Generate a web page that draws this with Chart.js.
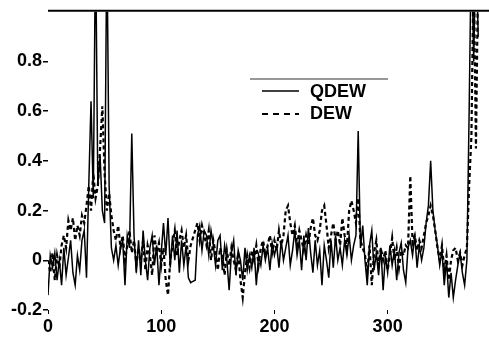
<!DOCTYPE html>
<html>
<head>
<meta charset="utf-8">
<script src="https://cdn.jsdelivr.net/npm/chart.js@4/dist/chart.umd.min.js"></script>
<style>
  body { margin: 0; background: #fff; }
  #chart { display: block; }
</style>
</head>
<body>
<canvas id="chart" width="489" height="337"></canvas>
<script>
// sample spacing along x (one value every 2 units, starting at 0)
const STEP = 2;

const seriesNames = ['QDEW', 'DEW'];

const qdew = [
  -0.14, 0.02, -0.03, 0.03, -0.08, 0.0, -0.1, 0.05, -0.06, 0.01,
  0.08, -0.05, -0.1, 0.02, -0.04, 0.08, 0.12, -0.07, 0.3, 0.64,
  0.25, 1.3, 0.3, 0.42, 0.2, 0.15, 1.3, 0.3, 0.05, 0.0,
  0.06, -0.02, 0.05, 0.08, -0.1, 0.1, 0.05, 0.51, 0.1, -0.05,
  0.08, -0.06, 0.12, 0.0, -0.08, 0.05, 0.1, -0.02, 0.06, -0.1,
  0.03, 0.15, 0.02, 0.17, -0.03, 0.1, 0.0, 0.12, -0.05, 0.08,
  -0.02, 0.06, -0.07, -0.09, -0.085, -0.08, 0.1, 0.14, 0.04, 0.12,
  0.1, 0.02, 0.12, 0.06, -0.02, 0.08, 0.1, -0.04, 0.06, 0.0,
  -0.12, 0.03, 0.08, -0.06, 0.04, 0.0, -0.08, 0.05, -0.04, 0.02,
  -0.03, 0.05, -0.1, 0.02, -0.02, 0.06, 0.0, 0.05, -0.04, 0.07,
  0.02, 0.06, -0.03, 0.08, 0.0, 0.05, 0.1, -0.02, 0.04, 0.12,
  0.02, 0.08, -0.04, 0.1, 0.0, 0.13, 0.03, -0.05, 0.08, -0.02,
  0.04, -0.1, 0.06, 0.0, -0.07, 0.08, -0.03, 0.1, 0.0, 0.05,
  -0.02, 0.08, 0.02, 0.1, 0.0, 0.06, 0.1, 0.52, 0.05, 0.14,
  0.0, -0.1, 0.06, 0.12, -0.04, 0.03, -0.06, 0.05, -0.12, 0.02,
  -0.05, 0.06, -0.02, 0.04, -0.08, 0.03, 0.07, -0.04, -0.09, 0.05,
  0.08, 0.02, 0.1, -0.03, 0.06, 0.0, 0.05, 0.15, 0.22, 0.4,
  0.2, 0.12, 0.06, -0.02, 0.04, -0.1, 0.0, -0.15, -0.05, -0.15,
  -0.08, -0.02, 0.03, -0.05, -0.1, 0.0, 0.6, 1.3, 0.8, 1.3,
  0.9
];

const dew = [
  0.0, -0.05, 0.03, -0.08, 0.02, -0.03, 0.06, 0.1, 0.05, 0.16,
  0.12, 0.17, 0.08, 0.14, 0.1, 0.18, 0.15, 0.22, 0.3, 0.2,
  0.35, 0.25, 0.3, 0.45, 0.62, 0.35, 0.2, 0.27, 0.18, 0.12,
  0.08, 0.14, 0.05, 0.1, 0.0, 0.06, 0.12, 0.03, 0.08, -0.02,
  0.05, 0.0, 0.08, -0.04, 0.06, 0.02, -0.06, 0.1, 0.03, 0.07,
  -0.02, 0.05, -0.08, -0.14, 0.0, 0.06, 0.12, 0.02, 0.08, 0.12,
  0.05, 0.1, 0.0, 0.06, 0.09, 0.12, 0.15, 0.08, 0.14, 0.1,
  0.06, 0.12, 0.0, 0.08, 0.03, -0.04, 0.05, 0.02, -0.06, 0.04,
  -0.02, 0.05, 0.0, -0.04, 0.03, -0.08, -0.15, -0.05, 0.02, -0.03,
  0.04, 0.0, 0.06, -0.02, 0.05, 0.08, 0.02, 0.06, 0.1, 0.03,
  0.08, 0.04, 0.12, 0.06, 0.1, 0.2, 0.22, 0.15, 0.1, 0.14,
  0.06, 0.12, 0.08, 0.04, 0.1, 0.06, 0.13, 0.17, 0.1, 0.08,
  0.12, 0.2, 0.22, 0.14, 0.05, 0.1, 0.15, 0.08, 0.12, 0.06,
  0.17, 0.1, 0.05, 0.2, 0.24, 0.2, 0.15, 0.25, 0.08, 0.05,
  0.02, -0.05, 0.06, -0.1, 0.03, 0.08, -0.02, 0.05, 0.0, 0.04,
  -0.04, 0.02, 0.09, 0.0, 0.05, -0.03, 0.04, 0.02, 0.06, 0.05,
  0.34, 0.07, 0.1, 0.04, 0.08, 0.05, 0.1, 0.15, 0.18, 0.22,
  0.18, 0.12, 0.05, 0.0, 0.06, -0.04, 0.02, -0.08, 0.0, 0.04,
  0.05, 0.0, 0.03, -0.02, 0.02, 0.05, 0.3, 0.5, 1.2, 0.45,
  1.2
];

const xTicks = [0, 100, 200, 300];
const xTickLabels = ['0', '100', '200', '300'];
const yTicks = [-0.2, 0, 0.2, 0.4, 0.6, 0.8];
const yTickLabels = ['-0.2', '0', '0.2', '0.4', '0.6', '0.8'];

const toPoints = (arr) => arr.map((v, i) => ({x: i * STEP, y: v}));

const FONT = 'Liberation Sans, Arial, sans-serif';

// top frame line and the little legend box
const decorations = {
    id: 'decorations',
    afterDraw(chart) {
        const {ctx, chartArea} = chart;
        ctx.save();
        ctx.strokeStyle = '#000';
        ctx.lineWidth = 2;
        ctx.beginPath();
        ctx.moveTo(chartArea.left, chartArea.top - 1);
        ctx.lineTo(chart.width, chartArea.top - 1);
        ctx.stroke();

        ctx.lineWidth = 1;
        ctx.strokeStyle = '#333';
        ctx.beginPath();
        ctx.moveTo(250, 79);
        ctx.lineTo(388, 79);
        ctx.stroke();

        ctx.strokeStyle = '#000';
        ctx.lineWidth = 1.3;
        ctx.beginPath();
        ctx.moveTo(262, 91);
        ctx.lineTo(299, 91);
        ctx.stroke();
        ctx.lineWidth = 2;
        ctx.setLineDash([6, 5]);
        ctx.beginPath();
        ctx.moveTo(262, 114);
        ctx.lineTo(299, 114);
        ctx.stroke();
        ctx.setLineDash([]);

        ctx.fillStyle = '#000';
        ctx.font = 'bold 18px ' + FONT;
        ctx.textBaseline = 'middle';
        ctx.fillText(seriesNames[0], 310, 92);
        ctx.fillText(seriesNames[1], 310, 114);
        ctx.restore();
    }
};

new Chart(document.getElementById('chart'), {
    type: 'line',
    data: {
        datasets: [{
            label: seriesNames[0],
            data: toPoints(qdew),
            borderColor: '#000',
            borderWidth: 1.5,
            pointRadius: 0,
            tension: 0
        }, {
            label: seriesNames[1],
            data: toPoints(dew),
            borderColor: '#000',
            borderWidth: 2.2,
            borderDash: [4, 3],
            pointRadius: 0,
            tension: 0
        }]
    },
    options: {
        responsive: false,
        animation: false,
        layout: {padding: {top: 10, right: 4, left: 0, bottom: 0}},
        plugins: {
            legend: {display: false},
            tooltip: {enabled: false}
        },
        scales: {
            x: {
                type: 'linear',
                min: 0,
                max: 386,
                afterBuildTicks: (scale) => { scale.ticks = xTicks.map(v => ({value: v})); },
                afterFit: (scale) => { scale.height = 27; },
                ticks: {
                    color: '#000',
                    font: {family: FONT, size: 18, weight: 'bold'},
                    padding: 2,
                    maxRotation: 0,
                    callback: (v) => xTickLabels[xTicks.indexOf(v)]
                },
                grid: {display: true, drawOnChartArea: false, tickLength: 4, color: '#000'},
                border: {display: false}
            },
            y: {
                min: -0.2,
                max: 1.0,
                afterBuildTicks: (scale) => { scale.ticks = yTicks.map(v => ({value: v})); },
                afterFit: (scale) => { scale.width = 48; },
                ticks: {
                    color: '#000',
                    font: {family: FONT, size: 18, weight: 'bold'},
                    padding: 1,
                    callback: (v) => yTickLabels[yTicks.indexOf(v)]
                },
                grid: {display: true, drawOnChartArea: false, tickLength: 5, color: '#000', lineWidth: 1.5},
                border: {display: false}
            }
        }
    },
    plugins: [decorations]
});
</script>
</body>
</html>
